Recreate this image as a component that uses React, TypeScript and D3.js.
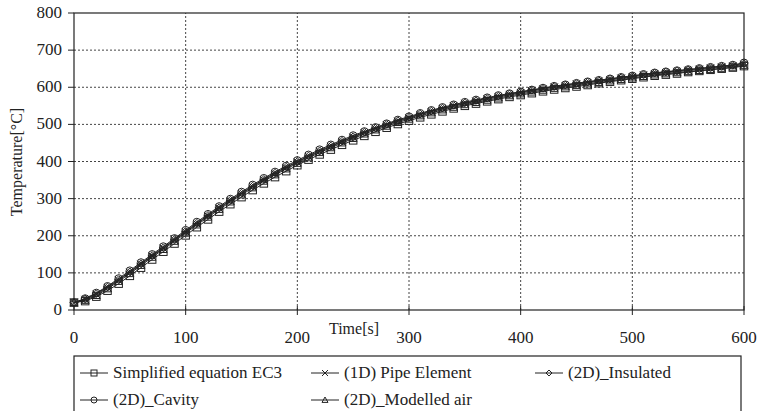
import React from "react";
import * as d3 from "d3";

const times = d3.range(0, 601, 10);

const ec3 = [20, 24, 36, 52, 71, 92, 114, 136, 157, 179, 201, 223, 244, 265, 285, 304, 323, 341, 358, 374, 390, 405, 419, 432, 445, 457, 469, 480, 491, 501, 510, 519, 527, 535, 543, 550, 556, 562, 568, 574, 579, 584, 589, 594, 598, 602, 606, 611, 615, 619, 623, 627, 631, 634, 637, 641, 644, 647, 650, 653, 657];
const pipe1D = [20, 28, 42, 60, 80, 101, 123, 145, 166, 188, 210, 232, 253, 274, 294, 313, 332, 350, 367, 383, 398, 413, 427, 440, 453, 465, 477, 488, 498, 508, 517, 526, 534, 542, 549, 556, 562, 568, 574, 580, 585, 590, 595, 600, 604, 608, 612, 616, 620, 624, 628, 632, 636, 639, 642, 645, 648, 651, 654, 657, 661];
const insulated2D = [20, 30, 44, 62, 82, 103, 125, 147, 168, 190, 212, 234, 255, 276, 296, 315, 334, 352, 369, 385, 400, 415, 429, 442, 455, 467, 479, 490, 500, 510, 519, 528, 536, 544, 551, 558, 564, 570, 576, 582, 587, 592, 597, 602, 606, 610, 614, 618, 622, 626, 630, 634, 638, 641, 644, 647, 650, 653, 656, 659, 664];
const cavity2D = [20, 31, 46, 64, 85, 106, 128, 150, 171, 193, 215, 237, 258, 279, 299, 318, 337, 355, 372, 388, 403, 418, 432, 445, 458, 470, 481, 492, 502, 512, 521, 530, 538, 546, 553, 560, 566, 572, 578, 583, 588, 593, 598, 603, 607, 611, 615, 619, 623, 627, 631, 635, 639, 642, 645, 648, 651, 654, 657, 660, 666];
const air2D = [20, 26, 39, 57, 77, 98, 120, 142, 163, 185, 207, 229, 250, 271, 291, 310, 329, 347, 364, 380, 395, 410, 424, 437, 450, 462, 474, 485, 495, 505, 514, 523, 531, 539, 546, 553, 559, 565, 571, 577, 582, 587, 592, 597, 601, 605, 609, 613, 617, 621, 625, 629, 633, 636, 639, 642, 645, 648, 651, 654, 659];

const xTicks = [0, 100, 200, 300, 400, 500, 600];
const yTicks = [0, 100, 200, 300, 400, 500, 600, 700, 800];

const series = [
  { name: "Simplified equation EC3", values: ec3, marker: "square" },
  { name: "(1D) Pipe Element", values: pipe1D, marker: "cross" },
  { name: "(2D)_Insulated", values: insulated2D, marker: "diamond" },
  { name: "(2D)_Cavity", values: cavity2D, marker: "circle" },
  { name: "(2D)_Modelled air", values: air2D, marker: "triangle" },
];

const font = "Liberation Serif, serif";
const ink = "#222";

function Marker({ type, x, y, s }) {
  const h = s / 2;
  if (type === "square")
    return <rect x={x - h} y={y - h} width={s} height={s} fill="none" stroke={ink} strokeWidth={1} />;
  if (type === "circle")
    return <circle cx={x} cy={y} r={h} fill="none" stroke={ink} strokeWidth={1} />;
  if (type === "diamond")
    return <path d={`M${x},${y - h}L${x + h},${y}L${x},${y + h}L${x - h},${y}Z`} fill="none" stroke={ink} strokeWidth={1} />;
  if (type === "triangle")
    return <path d={`M${x},${y - h}L${x + h},${y + h * 0.8}L${x - h},${y + h * 0.8}Z`} fill="none" stroke={ink} strokeWidth={1} />;
  return <path d={`M${x - h},${y - h}L${x + h},${y + h}M${x - h},${y + h}L${x + h},${y - h}`} stroke={ink} strokeWidth={1} />;
}

export default function App() {
  const W = 757, H = 411;
  const x = d3.scaleLinear().domain([0, 600]).range([74, 744]);
  const y = d3.scaleLinear().domain([0, 800]).range([310, 13]);

  const line = d3.line().x((d) => x(d[0])).y((d) => y(d[1]));

  const legendItems = [
    { s: series[0], lx: 80, ty: 378 },
    { s: series[1], lx: 311, ty: 378 },
    { s: series[2], lx: 535, ty: 378 },
    { s: series[3], lx: 80, ty: 405 },
    { s: series[4], lx: 311, ty: 405 },
  ];

  return (
    <svg width={W} height={H} style={{ position: "absolute", left: 0, top: 0, background: "#fff", fontFamily: font }}>
      {/* grid */}
      {yTicks.slice(1, -1).map((t) => (
        <line key={"gy" + t} x1={x(0)} x2={x(600)} y1={y(t)} y2={y(t)} stroke="#444" strokeWidth={1} strokeDasharray="2,2" />
      ))}
      {xTicks.slice(1, -1).map((t) => (
        <line key={"gx" + t} x1={x(t)} x2={x(t)} y1={y(0)} y2={y(800)} stroke="#444" strokeWidth={1} strokeDasharray="2,2" />
      ))}
      {/* frame */}
      <rect x={x(0)} y={y(800)} width={x(600) - x(0)} height={y(0) - y(800)} fill="none" stroke={ink} strokeWidth={1.2} />
      {/* y ticks */}
      {yTicks.map((t) => (
        <g key={"yt" + t}>
          <line x1={x(0) - 6} x2={x(0)} y1={y(t)} y2={y(t)} stroke={ink} />
          <text x={62} y={y(t) + 5} textAnchor="end" fontSize={17} fill={ink}>{t}</text>
        </g>
      ))}
      {/* x ticks */}
      {xTicks.map((t) => (
        <g key={"xt" + t}>
          <line x1={x(t)} x2={x(t)} y1={y(0) - 4} y2={y(0) + 5} stroke={ink} />
          <text x={x(t)} y={343} textAnchor="middle" fontSize={17} fill={ink}>{t}</text>
        </g>
      ))}
      <text x={354} y={334} textAnchor="middle" fontSize={16} fill={ink}>Time[s]</text>
      <text transform="translate(22,162) rotate(-90)" textAnchor="middle" fontSize={16} fill={ink}>Temperature[°C]</text>
      {/* series */}
      {series.map((s) => {
        const pts = times.map((t, i) => [t, s.values[i]]);
        return (
          <g key={s.name}>
            <path d={line(pts)} fill="none" stroke={ink} strokeWidth={1} />
            {pts.map((p, i) => (
              <Marker key={i} type={s.marker} x={x(p[0])} y={y(p[1])} s={7.5} />
            ))}
          </g>
        );
      })}
      {/* legend */}
      <rect x={74} y={356} width={667} height={70} fill="#fff" stroke={ink} strokeWidth={1.2} />
      {legendItems.map(({ s, lx, ty }) => (
        <g key={"lg" + s.name}>
          <line x1={lx} x2={lx + 28} y1={ty - 5} y2={ty - 5} stroke={ink} />
          <Marker type={s.marker} x={lx + 14} y={ty - 5} s={6} />
          <text x={lx + 33} y={ty} fontSize={17} fill={ink}>{s.name}</text>
        </g>
      ))}
    </svg>
  );
}
